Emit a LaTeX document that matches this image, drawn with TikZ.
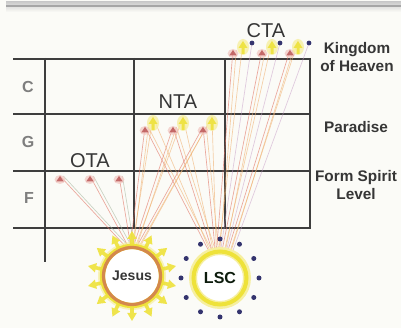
\documentclass[tikz,border=0pt]{standalone}
\usepackage{fontspec}
\setmainfont{Liberation Sans}
\usetikzlibrary{calc}
\definecolor{bgc}{HTML}{FBFBF7}
\definecolor{gridc}{HTML}{3E3E3E}
\definecolor{lblgray}{HTML}{7E7E7E}
\definecolor{txtc}{HTML}{363636}
\definecolor{redln}{HTML}{E07060}
\definecolor{orln}{HTML}{F0B070}
\definecolor{grnln}{HTML}{A8B8A0}
\definecolor{purln}{HTML}{C8A0C8}
\definecolor{tipred}{HTML}{B85050}
\definecolor{pinkhalo}{HTML}{F2C6C0}
\definecolor{yel}{HTML}{EEE23A}
\definecolor{yelhalo}{HTML}{F6EFA0}
\definecolor{ringor}{HTML}{D4884C}
\definecolor{dotc}{HTML}{34346E}
\begin{document}
\begin{tikzpicture}[x=0.75pt,y=-0.75pt,
  gridline/.style={gridc,line width=1.8pt},
  rowlbl/.style={text=lblgray,font=\fontsize{12}{12}\selectfont\bfseries},
  agelbl/.style={text=txtc,font=\fontsize{15}{15}\selectfont},
  sidelbl/.style={text=txtc,font=\fontsize{11.5}{13.5}\selectfont\bfseries,align=center},
  rl/.style={redln,line width=0.5pt,opacity=0.6},
  ol/.style={orln,line width=0.5pt,opacity=0.6},
  gl/.style={grnln,line width=0.5pt,opacity=0.6},
  pl/.style={purln,line width=0.5pt,opacity=0.55},
  redtip/.style={fill=tipred,opacity=0.8},
  yeltip/.style={fill=yel,opacity=0.9},
  dotmark/.style={fill=dotc},
]
\useasboundingbox (0,0) rectangle (401,328);
\fill[bgc] (0,0) rectangle (401,328);
\shade[top color=gray!40, bottom color=bgc] (6,2) rectangle (401,12);
\draw[gray!70,line width=1.2pt] (6,6) -- (401,6);

% grid
\foreach \yy in {59,114,171,228} \draw[gridline] (13,\yy) -- (311,\yy);
\draw[gridline] (45,58) -- (45,262);
\draw[gridline] (134,58) -- (134,228);
\draw[gridline] (225,58) -- (225,228);
\draw[gridline] (310,58) -- (310,228);

% row labels
\node[rowlbl] (lc) at (28,87) {C};
\node[rowlbl] (lg) at (28,142) {G};
\node[rowlbl] (lf) at (29,198) {F};

% side labels
\node[sidelbl] (kh) at (357,57) {Kingdom\\of Heaven};
\node[sidelbl] (pa) at (356,127) {Paradise};
\node[sidelbl] (fs) at (356,185) {Form Spirit\\Level};

% age labels
\node[agelbl] (cta) at (266,31) {CTA};
\node[agelbl] (nta) at (178,102) {NTA};
\node[agelbl] (ota) at (90,161) {OTA};

% circles (positions)
\coordinate (J) at (132,276);
\coordinate (L) at (220,278);
\node[circle,minimum size=42pt,inner sep=0pt] (jesus) at (J) {};
\node[circle,minimum size=39pt,inner sep=0pt] (lsc) at (L) {};

% tip coordinates
\coordinate (o1) at (60,176);
\coordinate (o2) at (90,176);
\coordinate (o3) at (119,176);
\coordinate (n1) at (145,127);
\coordinate (n2) at (173,127);
\coordinate (n3) at (203,127);
\coordinate (ny1) at (153,117);
\coordinate (ny2) at (183,117);
\coordinate (ny3) at (212,117);
\coordinate (c1) at (233,50);
\coordinate (c2) at (262,50);
\coordinate (c3) at (290,50);
\coordinate (cy1) at (243,41);
\coordinate (cy2) at (272,41);
\coordinate (cy3) at (298,41);
\coordinate (d1) at (252,43);
\coordinate (d2) at (280,43);
\coordinate (d3) at (309,43);

% connectors OTA -> Jesus
\draw[rl] (o1) -- (jesus.100);
\draw[gl] ([xshift=2.5pt]o1) -- ([xshift=2.5pt]jesus.100);
\draw[rl] (o2) -- (jesus.96);
\draw[gl] ([xshift=2.5pt]o2) -- ([xshift=2.5pt]jesus.96);
\draw[rl] (o3) -- (jesus.92);
\draw[gl] ([xshift=2.5pt]o3) -- ([xshift=2.5pt]jesus.92);

% connectors NTA -> Jesus and LSC
\foreach \n/\ja/\la in {n1/94/112, n2/88/106, n3/82/100}{
  \draw[rl] (\n) -- (jesus.\ja);
  \draw[ol] ([xshift=2.5pt]\n) -- ([xshift=2.5pt]jesus.\ja);
  \draw[rl] (\n) -- (lsc.\la);
  \draw[ol] ([xshift=2.5pt]\n) -- ([xshift=2.5pt]lsc.\la);
}
\foreach \n/\ja/\la in {ny1/90/110, ny2/84/104, ny3/78/98}{
  \draw[ol] (\n) -- (jesus.\ja);
  \draw[ol] (\n) -- (lsc.\la);
}

% connectors CTA -> LSC
\foreach \n/\la in {c1/98, c2/86, c3/74}{
  \draw[rl] (\n) -- (lsc.\la);
  \draw[ol] ([xshift=2.5pt]\n) -- ([xshift=2.5pt]lsc.\la);
}
\foreach \n/\la in {cy1/93, cy2/81, cy3/69}{
  \draw[ol] (\n) -- (lsc.\la);
}
\foreach \n/\la in {d1/89, d2/77, d3/64}{
  \draw[pl] (\n) -- (lsc.\la);
}

% tips
\foreach \t in {o1,o2,o3,n1,n2,n3,c1,c2,c3}{
  \fill[pinkhalo,opacity=0.7] (\t) ++(0,3.5) ellipse (5.5 and 4.5);
  \fill[redtip] (\t) -- ++(-3.8,5.5) -- ++(7.6,0) -- cycle;
}
\foreach \t in {ny1,ny2,ny3,cy1,cy2,cy3}{
  \fill[yelhalo,opacity=0.8] (\t) ++(0,6) ellipse (6 and 8);
  \fill[yeltip] (\t) -- ++(-4.5,7) -- ++(3,0) -- ++(0,6) -- ++(3,0) -- ++(0,-6) -- ++(3,0) -- cycle;
}
\foreach \t in {d1,d2,d3}{
  \fill[dotmark] (\t) circle (2.4);
}

% Jesus sun
\fill[yelhalo,opacity=0.7] (J) circle (34);
\foreach \i in {0,...,13}{
  \pgfmathsetmacro{\a}{\i*360/14+90}
  \fill[yel,opacity=0.9]
    ($(J)+(\a:31)+(\a+90:1.8)$) -- ($(J)+(\a:37)+(\a+90:1.8)$) --
    ($(J)+(\a:37)+(\a+90:4.8)$) -- ($(J)+(\a:45)$) --
    ($(J)+(\a:37)+(\a-90:4.8)$) -- ($(J)+(\a:37)+(\a-90:1.8)$) --
    ($(J)+(\a:31)+(\a-90:1.8)$) -- cycle;
}
\draw[yel,line width=4pt,fill=white] (J) circle (29.5);
\draw[ringor,line width=2.4pt] (J) circle (28.5);
\node[text=txtc,font=\fontsize{10.5}{10.5}\selectfont\bfseries] (jt) at (J) {Jesus};

% LSC
\draw[yelhalo,line width=6pt,fill=white] (L) circle (27);
\draw[yel,line width=3pt] (L) circle (26.5);
\foreach \i in {0,...,11}{
  \fill[dotmark] ($(L)+(\i*30+90:39)$) circle (2.5);
}
\node[text=txtc!80!green!30!black,font=\fontsize{12}{12}\selectfont\bfseries] (lt) at (L) {LSC};
\end{tikzpicture}
\end{document}
